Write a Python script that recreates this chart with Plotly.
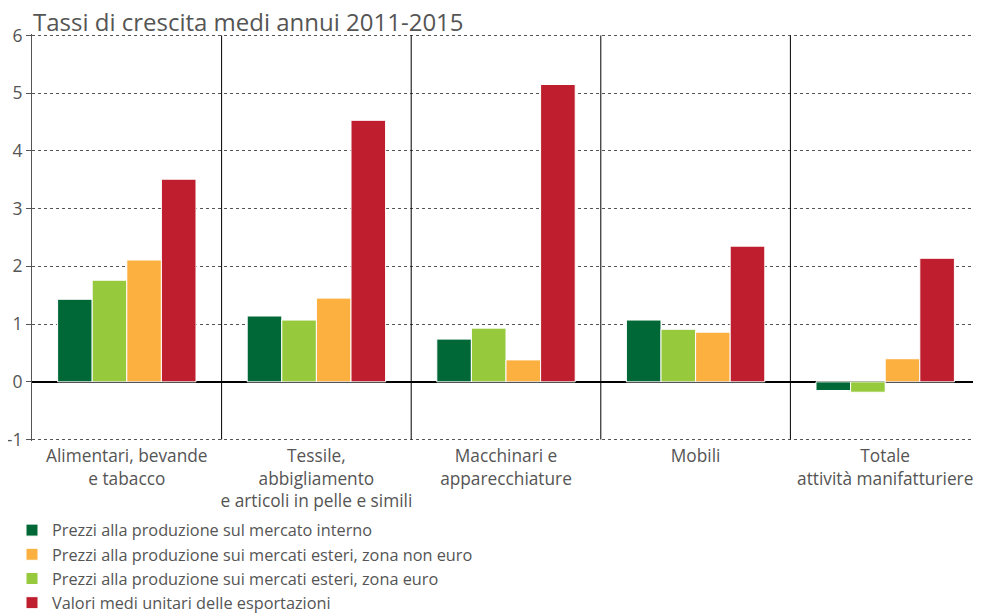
import plotly.graph_objects as go

# ---------------------------------------------------------------
# Data
# ---------------------------------------------------------------
categories = [
    "Alimentari, bevande<br>e tabacco",
    "Tessile,<br>abbigliamento<br>e articoli in pelle e simili",
    "Macchinari e<br>apparecchiature",
    "Mobili",
    "Totale<br>attività manifatturiere",
]
interno = [1.43, 1.14, 0.74, 1.07, -0.15]
zona_euro = [1.76, 1.07, 0.93, 0.91, -0.18]
zona_non_euro = [2.11, 1.45, 0.38, 0.86, 0.40]
valori_export = [3.51, 4.53, 5.15, 2.35, 2.14]
y_ticks = [-1, 0, 1, 2, 3, 4, 5, 6]
y_ticktext = ["-1", "0", "1", "2", "3", "4", "5", "6"]

palette = {
    "dark_green": "#006837",
    "light_green": "#97c93d",
    "orange": "#fbb040",
    "red": "#be1e2d",
    "text": "#555555",
}

# bars in drawing order, legendrank gives the legend order
series = [
    ("Prezzi alla produzione sul mercato interno", interno, palette["dark_green"], 1),
    ("Prezzi alla produzione sui mercati esteri, zona euro", zona_euro, palette["light_green"], 3),
    ("Prezzi alla produzione sui mercati esteri, zona non euro", zona_non_euro, palette["orange"], 2),
    ("Valori medi unitari delle esportazioni", valori_export, palette["red"], 4),
]

fig = go.Figure()
x_idx = list(range(len(categories)))
for name, values, color, rank in series:
    fig.add_trace(
        go.Bar(
            x=x_idx,
            y=values,
            name=name,
            marker=dict(color=color, line=dict(color="white", width=1)),
            legendrank=rank,
        )
    )

# vertical separators between categories
for i in range(len(categories) - 1):
    fig.add_shape(
        type="line",
        x0=i + 0.5,
        x1=i + 0.5,
        y0=-1,
        y1=6,
        xref="x",
        yref="y",
        line=dict(color="black", width=1),
        layer="above",
    )

# the page body adds an 8px margin, so the figure is 8px smaller than the window
W, H = 973, 606
fig.update_layout(
    width=W,
    height=H,
    plot_bgcolor="white",
    paper_bgcolor="white",
    font=dict(family="Open Sans", size=18, color=palette["text"]),
    barmode="group",
    bargap=0.27,
    bargroupgap=0,
    margin=dict(l=24, r=1, t=25.5, b=172.5, autoexpand=False),
    title=dict(
        text="Tassi di crescita medi annui 2011-2015",
        x=25 / W,
        xanchor="left",
        xref="container",
        y=1 - 15 / H,
        yanchor="middle",
        yref="container",
        font=dict(size=24, color=palette["text"]),
    ),
    legend=dict(
        orientation="v",
        xref="container",
        yref="container",
        x=4 / W,
        xanchor="left",
        y=1 - 505 / H,
        yanchor="top",
        font=dict(size=16.3, color=palette["text"]),
        tracegroupgap=0,
        itemwidth=30,
    ),
    showlegend=True,
)

fig.update_xaxes(
    tickmode="array",
    tickvals=x_idx,
    ticktext=categories,
    tickangle=0,
    range=[-0.5, len(categories) - 0.5],
    showgrid=False,
    showline=False,
    ticks="",
    ticklabelstandoff=3,
    tickfont=dict(size=17.3, color=palette["text"]),
)
# a little padding so the -1 and 6 grid lines are drawn
fig.update_yaxes(
    range=[-1.025, 6.025],
    tickmode="array",
    tickvals=y_ticks,
    ticktext=y_ticktext,
    showgrid=True,
    gridcolor="#555555",
    gridwidth=1,
    griddash="dot",
    zeroline=True,
    zerolinecolor="black",
    zerolinewidth=1.5,
    showline=True,
    linecolor="#555555",
    linewidth=1,
    ticks="outside",
    ticklen=5,
    tickcolor="#555555",
    tickfont=dict(size=17.5, color=palette["text"]),
)

fig.write_html("out.html")
